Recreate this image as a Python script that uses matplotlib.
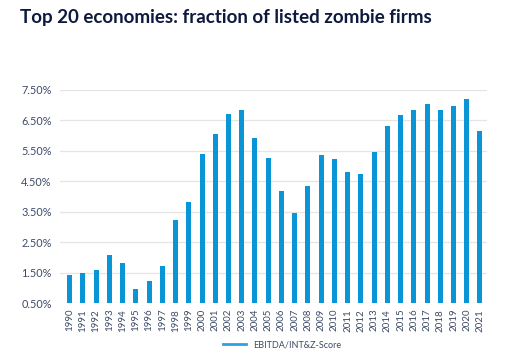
""" Bar chart: fraction of listed zombie firms in the top 20 economies """
import matplotlib
matplotlib.use("Agg")
import matplotlib.pyplot as plt
from matplotlib.lines import Line2D
import numpy as np

years = [str(y) for y in range(1990, 2022)]
zombie_share = [1.43, 1.51, 1.59, 2.09, 1.81, 0.97, 1.22, 1.73, 3.24, 3.81,
                5.41, 6.05, 6.70, 6.86, 5.93, 5.27, 4.19, 3.47, 4.36, 5.37,
                5.22, 4.82, 4.73, 5.45, 6.32, 6.69, 6.86, 7.05, 6.85, 6.98,
                7.20, 6.15]
y_ticks = [0.5, 1.5, 2.5, 3.5, 4.5, 5.5, 6.5, 7.5]
series_name = "EBITDA/INT&Z-Score"

BAR_COLOUR = "#0a96d6"
TEXT_COLOUR = "#3c4a66"
TITLE_COLOUR = "#0d1a3d"

plt.rcParams["font.family"] = ["Lato", "DejaVu Sans"]

fig = plt.figure(figsize=(5.23, 3.56), dpi=100)
ax = fig.add_axes([60 / 523, 1 - 303.3 / 356, 427 / 523, 213.3 / 356])

x = np.arange(len(years))
ax.bar(x, np.array(zombie_share) - 0.5, bottom=0.5, width=0.38,
       color=BAR_COLOUR, zorder=3)

ax.set_ylim(0.5, 7.5)
ax.set_xlim(-0.73, 31.53)
ax.set_yticks(y_ticks)
ax.set_yticklabels([f"{v:.2f}%" for v in y_ticks])
ax.set_xticks(x)
ax.set_xticklabels(years, rotation=90)
ax.tick_params(axis="y", length=0, labelsize=7.8, colors=TEXT_COLOUR, pad=6)
ax.tick_params(axis="x", length=0, labelsize=7, colors=TEXT_COLOUR, pad=4)
ax.grid(axis="y", color="#e4e4e4", linewidth=0.9, zorder=0)
for spine in ax.spines.values():
    spine.set_visible(False)

fig.text(20 / 523, 1 - 18 / 356, "Top 20 economies: fraction of listed zombie firms",
         fontsize=13.5, fontweight="bold", color=TITLE_COLOUR, va="center", ha="left")

handle = Line2D([0], [0], color="#2aa3df", linewidth=2)
fig.legend([handle], [series_name], loc="center", bbox_to_anchor=(282 / 523, 1 - 345 / 356),
           frameon=False, fontsize=6.5, handlelength=2.5, labelcolor=TEXT_COLOUR)

fig.savefig("out.png", dpi=100)
